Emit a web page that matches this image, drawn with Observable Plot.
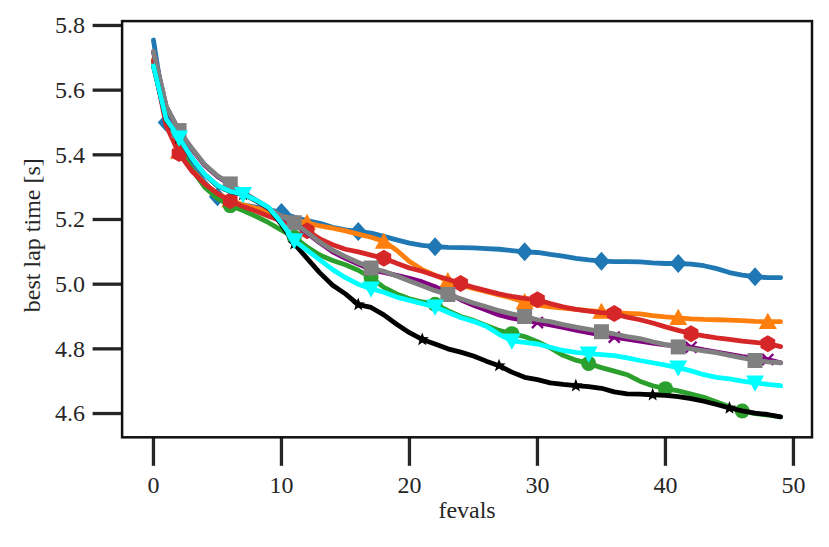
<!DOCTYPE html>
<html><head><meta charset="utf-8">
<script src="https://cdn.jsdelivr.net/npm/d3@7"></script>
<script src="https://cdn.jsdelivr.net/npm/@observablehq/plot@0.6"></script>
<style>
body{margin:0;background:#fff}
svg, svg text { font-family: "Liberation Serif" !important; }
</style>
</head><body><div id="chart"></div>
<script>
const fevals = [0,1,2,3,4,5,6,7,8,9,10,11,12,13,14,15,16,17,18,19,20,21,22,23,24,25,26,27,28,29,30,31,32,33,34,35,36,37,38,39,40,41,42,43,44,45,46,47,48,49];
const xTicks = [0,10,20,30,40,50];
const yTicks = [4.6,4.8,5.0,5.2,5.4,5.6,5.8];
const xLabel = "fevals";
const yLabel = "best lap time [s]";

const blueVals = [5.755,5.50,5.43,5.365,5.315,5.27,5.255,5.245,5.238,5.23,5.222,5.207,5.197,5.188,5.176,5.168,5.163,5.158,5.148,5.137,5.127,5.12,5.116,5.114,5.113,5.112,5.11,5.108,5.104,5.10,5.098,5.092,5.087,5.08,5.075,5.071,5.07,5.07,5.069,5.066,5.064,5.064,5.062,5.057,5.048,5.036,5.028,5.023,5.02,5.02];
const orangeVals = [5.695,5.50,5.41,5.355,5.31,5.28,5.26,5.245,5.235,5.225,5.21,5.2,5.19,5.18,5.173,5.165,5.155,5.145,5.132,5.105,5.07,5.045,5.028,5.01,4.997,4.987,4.977,4.967,4.957,4.945,4.935,4.93,4.926,4.922,4.918,4.915,4.912,4.91,4.908,4.903,4.899,4.896,4.893,4.891,4.89,4.889,4.887,4.885,4.884,4.884];
const greenVals = [5.69,5.50,5.42,5.355,5.30,5.265,5.243,5.228,5.21,5.19,5.167,5.145,5.115,5.09,5.073,5.06,5.043,5.02,4.99,4.97,4.955,4.945,4.938,4.918,4.9,4.888,4.872,4.857,4.847,4.838,4.822,4.803,4.78,4.765,4.755,4.742,4.731,4.72,4.70,4.686,4.677,4.67,4.66,4.65,4.636,4.621,4.608,4.60,4.595,4.59];
const redVals = [5.69,5.49,5.404,5.35,5.31,5.28,5.258,5.24,5.226,5.21,5.195,5.18,5.165,5.14,5.122,5.108,5.1,5.09,5.08,5.065,5.05,5.04,5.027,5.015,5.002,4.99,4.98,4.97,4.962,4.956,4.952,4.94,4.93,4.922,4.917,4.912,4.909,4.898,4.89,4.88,4.868,4.857,4.847,4.84,4.834,4.829,4.824,4.82,4.816,4.807];
const purpleVals = [5.718,5.548,5.473,5.418,5.368,5.333,5.308,5.283,5.258,5.233,5.208,5.188,5.158,5.128,5.10,5.08,5.062,5.045,5.036,5.027,5.018,5.007,4.992,4.972,4.952,4.935,4.92,4.905,4.895,4.888,4.881,4.874,4.866,4.858,4.85,4.843,4.836,4.83,4.824,4.818,4.812,4.809,4.805,4.797,4.79,4.783,4.776,4.771,4.767,4.757];
const grayVals = [5.72,5.55,5.475,5.42,5.37,5.335,5.31,5.285,5.26,5.235,5.21,5.19,5.16,5.13,5.105,5.085,5.067,5.05,5.04,5.025,5.01,4.995,4.98,4.968,4.955,4.942,4.93,4.918,4.908,4.90,4.89,4.884,4.875,4.867,4.86,4.853,4.846,4.838,4.832,4.822,4.813,4.806,4.80,4.794,4.788,4.78,4.772,4.764,4.76,4.757];
const blackVals = [5.674,5.509,5.452,5.389,5.339,5.304,5.286,5.277,5.259,5.236,5.185,5.125,5.08,5.035,4.997,4.97,4.937,4.928,4.905,4.876,4.85,4.829,4.815,4.80,4.79,4.778,4.762,4.748,4.728,4.712,4.705,4.695,4.69,4.686,4.683,4.678,4.667,4.661,4.66,4.658,4.656,4.652,4.646,4.638,4.628,4.617,4.608,4.601,4.597,4.59];
const cyanVals = [5.675,5.51,5.453,5.39,5.34,5.305,5.287,5.278,5.26,5.237,5.19,5.135,5.105,5.075,5.045,5.02,5.0,4.986,4.975,4.96,4.95,4.94,4.93,4.913,4.897,4.885,4.87,4.845,4.825,4.82,4.815,4.805,4.795,4.789,4.785,4.782,4.779,4.772,4.764,4.757,4.75,4.742,4.732,4.72,4.712,4.707,4.70,4.695,4.69,4.686];

const blueMarks = [1,5,10,16,22,29,35,41,47];
const orangeMarks = [2,6,12,18,23,29,35,41,48];
const greenMarks = [6,11,17,22,28,34,40,46];
const redMarks = [2,6,12,18,24,30,36,42,48];
const purpleMarks = [17,23,30,36,42,48];
const grayMarks = [2,6,11,17,23,29,35,41,47];
const blackMarks = [2,7,11,16,21,27,33,39,45];
const cyanMarks = [2,7,11,17,22,28,34,41,47];

// custom marker shapes (half-extent r derived from Plot's size = PI r^2)
const R = s => Math.sqrt(s / Math.PI);
const poly = (ctx, pts) => { ctx.moveTo(pts[0][0], pts[0][1]); for (let i = 1; i < pts.length; i++) ctx.lineTo(pts[i][0], pts[i][1]); ctx.closePath(); };
const symDiamond = {draw(ctx, s){const r=R(s); poly(ctx,[[0,-r],[r*0.9,0],[0,r],[-r*0.9,0]]);}};
const symTriUp = {draw(ctx, s){const r=R(s); poly(ctx,[[0,-r],[r,r*0.8],[-r,r*0.8]]);}};
const symTriDown = {draw(ctx, s){const r=R(s); poly(ctx,[[0,r],[r,-r*0.8],[-r,-r*0.8]]);}};
const symSquare = {draw(ctx, s){const r=R(s); poly(ctx,[[-r,-r],[r,-r],[r,r],[-r,r]]);}};
const symCircle = {draw(ctx, s){const r=R(s); ctx.moveTo(r,0); ctx.arc(0,0,r,0,2*Math.PI);}};
const symHex = {draw(ctx, s){const r=R(s); const p=[]; for(let k=0;k<6;k++){const a=-Math.PI/2+k*Math.PI/3; p.push([r*Math.cos(a), r*Math.sin(a)]);} poly(ctx,p);}};
const symStar = {draw(ctx, s){const r=R(s); const p=[]; for(let k=0;k<10;k++){const a=-Math.PI/2+k*Math.PI/5; const rr = k%2? r*0.42 : r; p.push([rr*Math.cos(a), rr*Math.sin(a)]);} poly(ctx,p);}};
const symX = {draw(ctx, s){const r=R(s); ctx.moveTo(-r,-r); ctx.lineTo(r,r); ctx.moveTo(r,-r); ctx.lineTo(-r,r);}};

const series = [
  {vals: blueVals, marks: blueMarks, color: "#1f77b4", sym: symDiamond, r: 9.5},
  {vals: orangeVals, marks: orangeMarks, color: "#ff7f0e", sym: symTriUp, r: 9},
  {vals: greenVals, marks: greenMarks, color: "#2ca02c", sym: symCircle, r: 7.5},
  {vals: redVals, marks: redMarks, color: "#d62728", sym: symHex, r: 8.5},
  {vals: purpleVals, marks: purpleMarks, color: "#800080", sym: symX, r: 5.5, hollow: true},
  {vals: grayVals, marks: grayMarks, color: "#808080", sym: symSquare, r: 7.5},
  {vals: blackVals, marks: blackMarks, color: "#000000", sym: symStar, r: 7},
  {vals: cyanVals, marks: cyanMarks, color: "#00ffff", sym: symTriDown, r: 9}
];

const FONT = "Liberation Serif";
const FS = 24;
const marks = [];
for (const s of series) {
  const rows = s.vals.map((v, i) => ({x: fevals[i], y: v}));
  const mrows = s.marks.map(i => ({x: fevals[i], y: s.vals[i]}));
  marks.push(Plot.line(rows, {x: "x", y: "y", stroke: s.color, strokeWidth: 4.8, strokeLinejoin: "round", strokeLinecap: "round"}));
  if (s.hollow) {
    marks.push(Plot.dot(mrows, {x: "x", y: "y", symbol: s.sym, r: s.r, fill: "none", stroke: s.color, strokeWidth: 2.4}));
  } else {
    marks.push(Plot.dot(mrows, {x: "x", y: "y", symbol: s.sym, r: s.r, fill: s.color, stroke: "none"}));
  }
}

const chart = Plot.plot({
  width: 829,
  height: 547,
  marginLeft: 121.6,
  marginRight: 17.5,
  marginTop: 20.6,
  marginBottom: 110.2,
  style: {"font-family": FONT, "font-size": FS + "px", "background": "#fff", "color": "#262626"},
  x: {domain: [-2.45, 51.45]},
  y: {domain: [4.5265, 5.8135]},
  marks: [
    ...marks,
    Plot.axisX({ticks: xTicks, tickSize: 29, tickPadding: 10, strokeWidth: 3.3, fontSize: FS, fontFamily: FONT, label: null, tickFormat: d => String(d)}),
    Plot.axisY({ticks: yTicks, tickSize: 29, tickPadding: 8, strokeWidth: 3.3, fontSize: FS, fontFamily: FONT, label: null, tickFormat: d => d.toFixed(1)}),
    Plot.frame({stroke: "#111", strokeWidth: 2.5}),
    Plot.text([xLabel], {frameAnchor: "bottom", dy: 81, text: d => d, fontSize: FS, fontFamily: FONT, fill: "#262626"}),
    Plot.text([yLabel], {frameAnchor: "left", dx: -90, dy: 6, rotate: -90, textAnchor: "middle", text: d => d, fontSize: FS, fontFamily: FONT, fill: "#262626"})
  ]
});
document.getElementById("chart").appendChild(chart);
</script>
</body></html>
